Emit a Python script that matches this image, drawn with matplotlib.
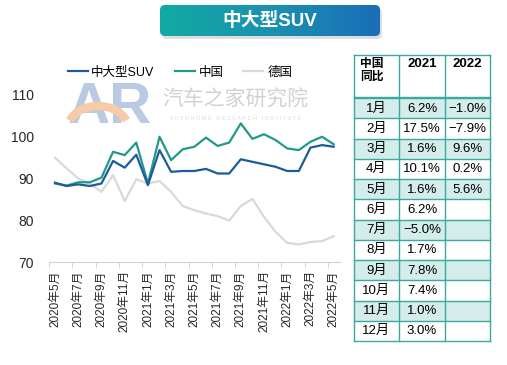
import matplotlib
matplotlib.use("Agg")
import matplotlib.pyplot as plt
import numpy as np
from matplotlib.patches import FancyBboxPatch, Rectangle, Arc
from matplotlib.colors import LinearSegmentedColormap

plt.rcParams['font.family'] = ['Liberation Sans', 'Noto Sans CJK SC', 'DejaVu Sans']

# data
months = ["2020年5月", "2020年6月", "2020年7月", "2020年8月", "2020年9月", "2020年10月",
          "2020年11月", "2020年12月", "2021年1月", "2021年2月", "2021年3月", "2021年4月",
          "2021年5月", "2021年6月", "2021年7月", "2021年8月", "2021年9月", "2021年10月",
          "2021年11月", "2021年12月", "2022年1月", "2022年2月", "2022年3月", "2022年4月",
          "2022年5月"]
suv = [89.0, 88.2, 88.6, 88.2, 88.8, 94.2, 92.6, 95.7, 88.4, 96.8, 91.6, 91.8, 91.8,
       92.3, 91.2, 91.2, 94.6, 94.0, 93.4, 92.8, 91.8, 91.8, 97.4, 98.0, 97.6]
china = [88.8, 88.3, 89.1, 89.1, 90.2, 96.4, 95.6, 98.6, 88.8, 100.0, 94.4, 97.0, 97.6,
         99.8, 97.8, 98.6, 103.2, 99.5, 100.6, 99.2, 97.2, 96.8, 98.8, 100.0, 98.2]
germany = [95.0, 92.4, 90.0, 88.8, 86.8, 90.8, 84.6, 89.8, 88.8, 89.4, 86.8, 83.4, 82.4,
           81.6, 81.0, 79.9, 83.4, 85.1, 80.8, 77.2, 74.6, 74.2, 74.8, 75.0, 76.2]

table_header = ["中国\n同比", "2021", "2022"]
table_months = ["1月", "2月", "3月", "4月", "5月", "6月", "7月", "8月", "9月", "10月", "11月", "12月"]
yoy_2021 = ["6.2%", "17.5%", "1.6%", "10.1%", "1.6%", "6.2%", "\u22125.0%", "1.7%", "7.8%",
            "7.4%", "1.0%", "3.0%"]
yoy_2022 = ["\u22121.0%", "\u22127.9%", "9.6%", "0.2%", "5.6%", "", "", "", "", "", "", ""]

W, H = 507, 365
fig = plt.figure(figsize=(W / 100, H / 100), dpi=100)

# overlay axes in pixel coords for banner, watermark, table
ov = fig.add_axes([0, 0, 1, 1])
ov.set_xlim(0, W)
ov.set_ylim(H, 0)
ov.axis('off')

# title banner with gradient
shadow = FancyBboxPatch((162, 8), 220, 31, boxstyle="round,pad=0,rounding_size=5",
                        fc='#c8c8c8', ec='none', alpha=0.6)
ov.add_patch(shadow)
banner = FancyBboxPatch((160, 5), 220, 31, boxstyle="round,pad=0,rounding_size=5",
                        fc='none', ec='none')
ov.add_patch(banner)
grad = np.linspace(0, 1, 256).reshape(1, -1)
cmap = LinearSegmentedColormap.from_list('bn', ['#12aaa2', '#1a92b0', '#1b6db8'])
im = ov.imshow(grad, extent=(160, 380, 36, 5), cmap=cmap, aspect='auto', zorder=2)
im.set_clip_path(banner)
ov.text(270, 21, "中大型SUV", color='white', fontsize=13.5, fontweight='bold',
        ha='center', va='center', zorder=3)

# watermark
ov.text(110, 108, "AR", fontsize=42, fontweight='bold', color='#b9cae2',
        ha='center', va='center', zorder=0)
ov.add_patch(Arc((98, 128), 60, 44, theta1=195, theta2=345, lw=6,
                 color='#f7cba6', zorder=1))
ov.text(235, 100, "汽车之家研究院", fontsize=15, color='#d2d2d2', ha='center', va='center', zorder=0)
ov.text(235, 119, "A U T O H O M E   R E S E A R C H   I N S T I T U T E", fontsize=4,
        color='#dcdcdc', ha='center', va='center', zorder=0)

# table
tx = [354, 399, 445, 490]
ty0, ty1 = 55, 98
rh = (341 - ty1) / len(table_months)
border = '#3aa99f'
shade = '#d4ecea'
for i in range(len(table_months)):
    y = ty1 + i * rh
    if i % 2 == 0:
        ov.add_patch(Rectangle((tx[0], y), tx[3] - tx[0], rh, fc=shade, ec='none', zorder=1))
    ov.text((tx[0] + tx[1]) / 2, y + rh / 2 + 0.5, table_months[i], fontsize=9.5,
            ha='center', va='center', zorder=3)
    ov.text((tx[1] + tx[2]) / 2, y + rh / 2 + 0.5, yoy_2021[i], fontsize=9.5,
            ha='center', va='center', zorder=3)
    ov.text((tx[2] + tx[3]) / 2, y + rh / 2 + 0.5, yoy_2022[i], fontsize=9.5,
            ha='center', va='center', zorder=3)
    ov.plot([tx[0], tx[3]], [y, y], color=border, lw=1, zorder=2)
ov.plot([tx[0], tx[3]], [ty1 - 1.5, ty1 - 1.5], color=border, lw=1, zorder=2)
ov.plot([tx[0], tx[3]], [ty0, ty0], color=border, lw=1, zorder=2)
ov.plot([tx[0], tx[3]], [341, 341], color=border, lw=1, zorder=2)
for x in tx:
    ov.plot([x, x], [ty0, 341], color=border, lw=1, zorder=2)
ov.text(tx[0] + 6, ty0 + 3, table_header[0], fontsize=8.5, fontweight='bold',
        ha='left', va='top', linespacing=1.1, zorder=3)
ov.text((tx[1] + tx[2]) / 2, ty0 + 3, table_header[1], fontsize=9.5, fontweight='bold',
        ha='center', va='top', zorder=3)
ov.text((tx[2] + tx[3]) / 2, ty0 + 3, table_header[2], fontsize=9.5, fontweight='bold',
        ha='center', va='top', zorder=3)

# line chart
ax = fig.add_axes([49.2 / W, 1 - 262 / H, (339.5 - 49.2) / W, (262 - 95) / H])
ax.patch.set_alpha(0)
x = np.arange(len(months))
ax.plot(x, germany, color='#d9d9d9', lw=1.6, label='德国', zorder=2)
ax.plot(x, china, color='#21998a', lw=1.6, label='中国', zorder=3)
ax.plot(x, suv, color='#1a5c9c', lw=1.6, label='中大型SUV', zorder=4)
ax.set_xlim(-0.5, len(months) - 0.5)
ax.set_ylim(70, 110)
ax.set_yticks([70, 80, 90, 100, 110])
ax.set_xticks(x[::2])
ax.set_xticklabels(months[::2], rotation=90, fontsize=8.5, color='#262626')
ax.set_xticks(np.arange(-0.5, len(months), 2), minor=True)
ax.tick_params(axis='x', which='major', length=0, pad=6)
ax.tick_params(axis='x', which='minor', length=4, color='#d0d0d0')
ax.tick_params(axis='y', length=0, labelsize=10, pad=11, labelcolor='#262626')
for s in ['top', 'right', 'left']:
    ax.spines[s].set_visible(False)
ax.spines['bottom'].set_color('#d0d0d0')

handles, labels = ax.get_legend_handles_labels()
order = [2, 1, 0]
ax.legend([handles[i] for i in order], [labels[i] for i in order], loc='lower center',
          bbox_to_anchor=(0.45, 1.03), ncol=3, frameon=False, fontsize=9,
          handlelength=1.6, handletextpad=0.3, columnspacing=1.6)

fig.savefig("out.png", dpi=100)
